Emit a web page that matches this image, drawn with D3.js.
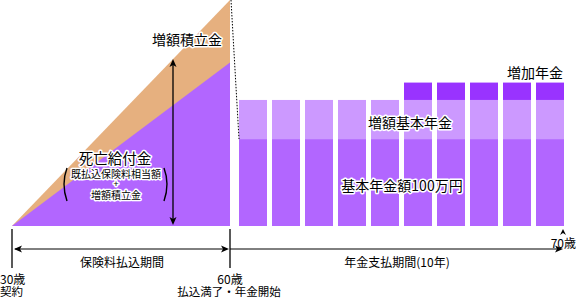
<!DOCTYPE html>
<html><head><meta charset="utf-8">
<script src="https://cdn.jsdelivr.net/npm/d3@7/dist/d3.min.js"></script>
<style>
body{margin:0;background:#fff;}
svg{display:block;font-family:"Noto Sans CJK JP","Noto Sans",sans-serif;}
.halo{paint-order:stroke;stroke:#fff;stroke-width:3px;stroke-linejoin:round;}
</style></head><body>
<script>
// ---- data ----
const ages = [30, 60, 70];
const ageLabels = ["30歳", "60歳", "70歳"];
const ageSubLabels = ["契約", "払込満了・年金開始", ""];
const accumTotal = 260;      // 死亡給付金 + 増額積立金 at age 60
const accumBase = 188;       // 既払込保険料相当額 level at age 60
const payYears = [1,2,3,4,5,6,7,8,9,10];
const basePension = [100,100,100,100,100,100,100,100,100,100];
const zougakuPension = [45,45,45,45,45,45,45,45,45,45];
const zoukaPension = [0,0,0,0,0,20,20,20,20,20];
const colors = {orange:"#E6B07F", purple:"#B266FF", light:"#CC99FF", dark:"#9933FF"};

const W = 576, H = 299;
const svg = d3.select("body").append("svg").attr("width", W).attr("height", H);

const x = d3.scaleLinear().domain([30, 60]).range([12, 230]);
const y = d3.scaleLinear().domain([0, 260]).range([226, 0]);
const xb = d3.scaleBand().domain(payYears).range([239, 564]).paddingInner(5/33).paddingOuter(0);

// triangles
svg.append("path").attr("fill", colors.orange)
  .attr("d", `M${x(30)},${y(0)}L${x(60)},${y(accumTotal)}L${x(60)},${y(0)}Z`);
svg.append("path").attr("fill", colors.purple)
  .attr("d", `M${x(30)},${y(0)}L${x(60)},${y(accumBase)}L${x(60)},${y(0)}Z`);

// bars
const g = svg.append("g");
payYears.forEach((yr, i) => {
  const b = basePension[i], z = zougakuPension[i], a = zoukaPension[i];
  g.append("rect").attr("x", xb(yr)).attr("width", xb.bandwidth())
    .attr("y", y(b)).attr("height", y(0) - y(b)).attr("fill", colors.purple);
  g.append("rect").attr("x", xb(yr)).attr("width", xb.bandwidth())
    .attr("y", y(b + z)).attr("height", y(b) - y(b + z)).attr("fill", colors.light);
  if (a > 0) g.append("rect").attr("x", xb(yr)).attr("width", xb.bandwidth())
    .attr("y", y(b + z + a)).attr("height", y(b + z) - y(b + z + a)).attr("fill", colors.dark);
});

// dotted diagonal line
svg.append("line").attr("x1", x(60) + 1).attr("y1", y(accumTotal))
  .attr("x2", xb(1)).attr("y2", y(basePension[0]))
  .attr("stroke", "#000").attr("stroke-width", 1).attr("stroke-dasharray", "1.5,1.5");

// arrowhead helper
function head(px, py, dir, len = 8, half = 3.5) {
  let pts;
  if (dir === "up") pts = [[px, py], [px - half, py + len], [px, py + len - 2], [px + half, py + len]];
  if (dir === "down") pts = [[px, py], [px - half, py - len], [px, py - len + 2], [px + half, py - len]];
  if (dir === "left") pts = [[px, py], [px + len, py - half], [px + len - 2, py], [px + len, py + half]];
  if (dir === "right") pts = [[px, py], [px - len, py - half], [px - len + 2, py], [px - len, py + half]];
  svg.append("path").attr("d", "M" + pts.join("L") + "Z").attr("fill", "#000");
}

// vertical double arrow
const ax = 173;
svg.append("line").attr("x1", ax).attr("x2", ax).attr("y1", 62).attr("y2", 223).attr("stroke", "#000").attr("stroke-width", 1.3);
head(ax, 59, "up");
head(ax, 225, "down");

// axis
const ay = 249;
[30, 60].forEach(a => svg.append("line").attr("x1", x(a)).attr("x2", x(a)).attr("y1", 229).attr("y2", 268)
  .attr("stroke", "#000").attr("stroke-width", 1.3));
svg.append("line").attr("x1", x(30) + 3).attr("x2", x(60) - 3).attr("y1", ay).attr("y2", ay).attr("stroke", "#000");
head(x(30) + 2, ay, "left");
head(x(60) - 1, ay, "right");
svg.append("line").attr("x1", x(60)).attr("x2", 560).attr("y1", ay).attr("y2", ay).attr("stroke", "#000");
head(563, ay, "right");
head(563, 229, "up", 6, 3);

function txt(s, tx, ty, size, anchor = "middle", halo = false, weight = "normal") {
  const t = svg.append("text").attr("x", tx).attr("y", ty).attr("font-size", size)
    .attr("text-anchor", anchor).attr("dominant-baseline", "central").attr("fill", "#000")
    .attr("font-weight", weight).text(s);
  if (halo) t.attr("class", "halo");
  return t;
}

// labels
txt("増額積立金", 187, 39, 14, "middle", true);
txt("死亡給付金", 115, 157, 14.5, "middle", true);
txt("既払込保険料相当額", 116, 173, 10, "middle", true);
txt("+", 116, 183.5, 9, "middle", true);
txt("増額積立金", 116, 194, 10, "middle", true);
// parentheses
svg.append("path").attr("d", "M67,168Q61,184 67,201").attr("fill", "none").attr("stroke", "#000").attr("stroke-width", 1.4);
svg.append("path").attr("d", "M164,168Q170,184 164,201").attr("fill", "none").attr("stroke", "#000").attr("stroke-width", 1.4);

txt("増額基本年金", 410, 122, 14, "middle", true);
txt("基本年金額100万円", 402, 185, 14, "middle", true);
txt("増加年金", 563, 72, 14, "end", true);

txt("保険料払込期間", 122, 261, 12);
txt("年金支払期間(10年)", 397, 261, 12);
txt(ageLabels[0], 0, 278, 12, "start");
txt(ageSubLabels[0], 0, 291, 11.5, "start");
txt(ageLabels[1], 230, 278, 12, "middle");
txt(ageSubLabels[1], 229, 291, 11.5, "middle");
txt(ageLabels[2], 576, 242, 12, "end");
</script>
</body></html>
